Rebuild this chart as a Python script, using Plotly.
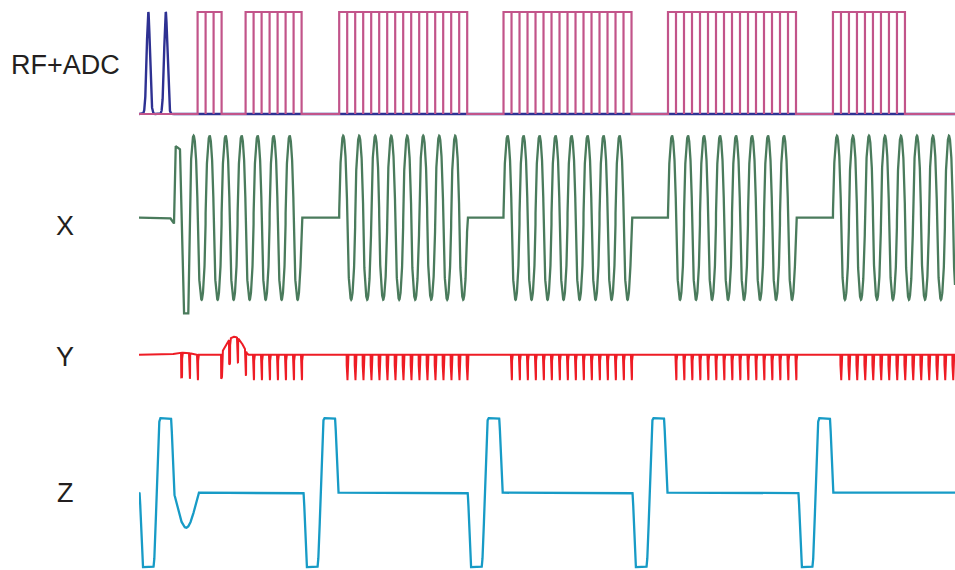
import numpy as np
import plotly.graph_objects as go

# ---- sequence timing (ms) and normalised amplitudes ----
ESP = 1.0                      # one full readout-gradient cycle
DWELL = 0.5                    # one ADC window per half cycle
LOBE_SHAPE = 0.6               # exponent giving the rounded readout lobes

rf_centers = [0.52, 1.61]
rf_sigma = 0.1

adc_starts = [3.6, 6.6, 12.45, 22.72, 33.0, 43.31]
adc_counts = [3, 7, 16, 16, 16, 9]

# readout (X) echo trains: start time and number of cycles
train_starts = [3.1, 12.45, 22.72, 33.0, 43.31]
train_cycles = [7, 8, 8, 8, 8]
# prephasing part of X before the first train
x_pre_t = [-0.1, 1.875, 2.125, 2.23, 2.5, 2.71, 3.02, 3.1]
x_pre_a = [0.0, 0.0, -0.07, 0.874, 0.834, -1.166, -1.166, 0.0]

# phase-encode (Y) blips
y_blips_first = [2.6, 3.1, 3.6, 5.1, 5.6, 6.1, 6.6, 7.1, 7.6, 8.1, 8.6, 9.1, 9.6, 10.1]
y_blips_per_train = 16
y_blip_depth = -1.0
# smooth Y lobes: start, end, amplitude
y_bumps = [(1.875, 3.54, 0.08), (5.06, 6.73, 0.73)]

# slice (Z) bipolar gradients: start times, ramp/flat durations
z_bipolar_starts = [-0.04, 10.21, 20.47, 30.77, 41.14]
z_ramp, z_flat_neg, z_mid, z_flat_pos = 0.21, 0.66, 0.42, 0.68
z_rewind = (2.125, 3.64, -0.47)

channel_labels = ["RF+ADC", "X", "Y", "Z"]

T0, T1 = -0.0625, 50.9375
t = np.arange(T0, T1 + 0.004, 0.004)

# ---- RF ----
rf = np.zeros_like(t)
for c in rf_centers:
    rf += np.exp(-0.5 * ((t - c) / rf_sigma) ** 2)

# ---- ADC boxes ----
adc_x, adc_y = [T0], [0.0]
for s, n in zip(adc_starts, adc_counts):
    for k in range(n):
        a = s + k * DWELL
        b = a + DWELL
        adc_x += [a, a, b, b]
        adc_y += [0, 1, 1, 0]
adc_x.append(T1)
adc_y.append(0.0)

# ---- X readout ----
gx = np.interp(t, x_pre_t, x_pre_a, left=0.0, right=0.0)
for s, n in zip(train_starts, train_cycles):
    m = (t >= s) & (t <= s + n * ESP)
    sv = np.sin(2 * np.pi * (t[m] - s) / ESP)
    gx[m] = np.sign(sv) * np.abs(sv) ** LOBE_SHAPE

# ---- Y phase encode ----
gy = np.zeros_like(t)
for a, b, amp in y_bumps:
    m = (t >= a) & (t <= b)
    gy[m] += amp * np.sin(np.pi * (t[m] - a) / (b - a))
blips = list(y_blips_first)
for s in train_starts[1:]:
    blips += [s + k * DWELL for k in range(1, y_blips_per_train + 1)]
half_w = 0.035
for c in blips:
    d = np.abs(t - c)
    prof = np.clip((half_w - d) / 0.006, 0, 1)
    gy += y_blip_depth * prof

# ---- Z slice gradients ----
def ramp(x):
    return 0.5 - 0.5 * np.cos(np.pi * np.clip(x, 0, 1))

gz = np.zeros_like(t)
for s in z_bipolar_starts:
    e1 = s + z_ramp
    e2 = e1 + z_flat_neg
    e3 = e2 + z_mid
    e4 = e3 + z_flat_pos
    e5 = e4 + z_ramp
    m = (t >= s) & (t <= e5)
    tt = t[m]
    v = -ramp((tt - s) / z_ramp)
    v = np.where(tt > e2, -1 + 2 * ramp((tt - e2) / z_mid), v)
    v = np.where(tt > e4, 1 - ramp((tt - e4) / z_ramp), v)
    gz[m] = v
a, b, amp = z_rewind
m = (t >= a) & (t <= b)
gz[m] = amp * np.sin(np.pi * (t[m] - a) / (b - a))

# ---- figure ----
W, H = 955, 570
ML = 139
fig = go.Figure()
fig.add_trace(go.Scatter(x=t, y=rf, mode="lines", line=dict(color="#2E3192", width=2.4),
                         xaxis="x", yaxis="y", hoverinfo="skip"))
fig.add_trace(go.Scatter(x=adc_x, y=adc_y, mode="lines", line=dict(color="#C2548A", width=2.2),
                         xaxis="x", yaxis="y", hoverinfo="skip"))
fig.add_trace(go.Scatter(x=t, y=gx, mode="lines", line=dict(color="#4A7B5C", width=2.3),
                         xaxis="x", yaxis="y2", hoverinfo="skip"))
fig.add_trace(go.Scatter(x=t, y=gy, mode="lines", line=dict(color="#EE1C25", width=2.0),
                         xaxis="x", yaxis="y3", hoverinfo="skip"))
fig.add_trace(go.Scatter(x=t, y=gz, mode="lines", line=dict(color="#179BC6", width=2.3),
                         xaxis="x", yaxis="y4", hoverinfo="skip"))

# rows: baseline pixel, pixels per unit, top pixel, bottom pixel
rows = [(114.0, 102.0, 0, 128), (217.7, 82.0, 128, 322),
        (354.7, 24.6, 322, 395), (492.7, 74.5, 398, 570)]
hidden = dict(visible=False, showgrid=False, zeroline=False, fixedrange=True)
layout_axes = {}
for i, (base, ppu, top, bot) in enumerate(rows):
    name = "yaxis" if i == 0 else f"yaxis{i + 1}"
    layout_axes[name] = dict(hidden, anchor="x",
                             domain=[1 - bot / H, 1 - top / H],
                             range=[(base - bot) / ppu, (base - top) / ppu])

label_y = [65, 226, 357, 493]
label_x = (65 - ML) / (W - ML)
annotations = [dict(text=lab, x=label_x, y=1 - py / H, xref="paper", yref="paper",
                    xanchor="center", yanchor="middle", showarrow=False,
                    font=dict(family="Liberation Sans, Arial, sans-serif", size=27, color="#231F20"))
               for lab, py in zip(channel_labels, label_y)]

fig.update_layout(
    width=W, height=H, showlegend=False,
    margin=dict(l=ML, r=0, t=0, b=0),
    paper_bgcolor="white", plot_bgcolor="white",
    xaxis=dict(hidden, range=[T0, T1]),
    annotations=annotations,
    **layout_axes,
)
fig.write_html("out.html", config={"displayModeBar": False})
